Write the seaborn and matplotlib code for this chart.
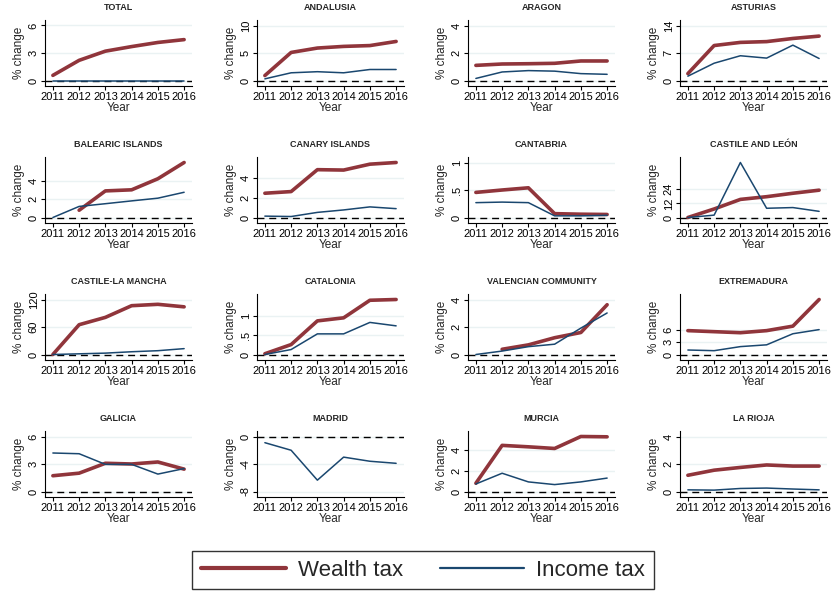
import numpy as np
import pandas as pd
import seaborn as sns
import matplotlib.pyplot as plt
from matplotlib.lines import Line2D

# === colours (Stata s2color-ish) === #
WEALTH_COLOR = "#90353B"
INCOME_COLOR = "#1A476F"
GRID_COLOR = "#EAF2F3"

NA = np.nan
YEARS = [2011, 2012, 2013, 2014, 2015, 2016]

# % change
total_wealth = [0.56, 2.2, 3.2, 3.7, 4.15, 4.46]
total_income = [0.0, 0.0, 0.0, 0.0, 0.0, 0.0]
andalusia_wealth = [0.9, 5.1, 5.9, 6.2, 6.35, 7.1]
andalusia_income = [0.3, 1.4, 1.6, 1.4, 2.0, 2.0]
aragon_wealth = [1.1, 1.2, 1.22, 1.25, 1.42, 1.42]
aragon_income = [0.15, 0.62, 0.72, 0.68, 0.5, 0.45]
asturias_wealth = [1.75, 8.9, 9.7, 9.9, 10.7, 11.3]
asturias_income = [1.1, 4.4, 6.3, 5.7, 9.0, 5.6]
balearic_wealth = [NA, 0.8, 2.93, 3.05, 4.27, 6.06]
balearic_income = [0.0, 1.22, 1.52, 1.83, 2.13, 2.78]
canary_wealth = [2.47, 2.64, 4.87, 4.83, 5.43, 5.6]
canary_income = [0.14, 0.1, 0.52, 0.77, 1.08, 0.9]
cantabria_wealth = [0.456, 0.5, 0.54, 0.07, 0.06, 0.055]
cantabria_income = [0.27, 0.28, 0.27, 0.03, 0.03, 0.04]
castile_leon_wealth = [0.0, 7.2, 15.3, 17.6, 20.5, 23.1]
castile_leon_income = [0.0, 2.0, 46.5, 7.8, 8.4, 5.2]
castile_mancha_wealth = [0.0, 65.0, 81.0, 106.5, 109.5, 104.0]
castile_mancha_income = [0.0, 1.5, 3.0, 6.0, 8.3, 12.8]
catalonia_wealth = [0.02, 0.26, 0.88, 0.96, 1.42, 1.44]
catalonia_income = [0.0, 0.13, 0.54, 0.54, 0.84, 0.75]
valencia_wealth = [NA, 0.38, 0.7, 1.22, 1.6, 3.62]
valencia_income = [0.0, 0.25, 0.57, 0.75, 1.92, 3.02]
extremadura_wealth = [5.75, 5.5, 5.25, 5.75, 6.83, 13.25]
extremadura_income = [1.08, 0.92, 1.9, 2.33, 5.0, 6.0]
galicia_wealth = [1.72, 2.0, 3.08, 3.0, 3.22, 2.44]
galicia_income = [4.2, 4.12, 2.96, 2.96, 1.9, 2.5]
madrid_wealth = [NA, NA, NA, NA, NA, NA]
madrid_income = [-0.9, -2.0, -6.35, -3.0, -3.6, -3.9]
murcia_wealth = [0.8, 4.47, 4.33, 4.17, 5.33, 5.3]
murcia_income = [0.73, 1.77, 0.93, 0.67, 0.93, 1.3]
rioja_wealth = [1.18, 1.55, 1.75, 1.93, 1.85, 1.85]
rioja_income = [0.12, 0.1, 0.22, 0.25, 0.18, 0.12]

PANELS = [
    ("TOTAL", total_wealth, total_income, [0, 3, 6], ["0", "3", "6"]),
    ("ANDALUSIA", andalusia_wealth, andalusia_income, [0, 5, 10], ["0", "5", "10"]),
    ("ARAGON", aragon_wealth, aragon_income, [0, 2, 4], ["0", "2", "4"]),
    ("ASTURIAS", asturias_wealth, asturias_income, [0, 7, 14], ["0", "7", "14"]),
    ("BALEARIC ISLANDS", balearic_wealth, balearic_income, [0, 2, 4], ["0", "2", "4"]),
    ("CANARY ISLANDS", canary_wealth, canary_income, [0, 2, 4], ["0", "2", "4"]),
    ("CANTABRIA", cantabria_wealth, cantabria_income, [0, 0.5, 1], ["0", ".5", "1"]),
    ("CASTILE AND LEÓN", castile_leon_wealth, castile_leon_income, [0, 12, 24], ["0", "12", "24"]),
    ("CASTILE-LA MANCHA", castile_mancha_wealth, castile_mancha_income, [0, 60, 120], ["0", "60", "120"]),
    ("CATALONIA", catalonia_wealth, catalonia_income, [0, 0.5, 1], ["0", ".5", "1"]),
    ("VALENCIAN COMMUNITY", valencia_wealth, valencia_income, [0, 2, 4], ["0", "2", "4"]),
    ("EXTREMADURA", extremadura_wealth, extremadura_income, [0, 3, 6], ["0", "3", "6"]),
    ("GALICIA", galicia_wealth, galicia_income, [0, 3, 6], ["0", "3", "6"]),
    ("MADRID", madrid_wealth, madrid_income, [-8, -4, 0], ["-8", "-4", "0"]),
    ("MURCIA", murcia_wealth, murcia_income, [0, 2, 4], ["0", "2", "4"]),
    ("LA RIOJA", rioja_wealth, rioja_income, [0, 2, 4], ["0", "2", "4"]),
]

# layout in pixels
W, H = 833, 594
COL_LEFT = [45, 257, 468, 680]
ROW_TOP = [20, 157, 294, 431]
AX_W, AX_H = 147, 66

sns.set_style("ticks")
plt.rcParams["font.family"] = ["Liberation Sans", "DejaVu Sans"]

fig = plt.figure(figsize=(W / 100, H / 100), dpi=100)
fig.patch.set_facecolor("white")

for i, (title, wealth, income, ticks, labels) in enumerate(PANELS):
    r, c = divmod(i, 4)
    ax = fig.add_axes([COL_LEFT[c] / W, 1 - (ROW_TOP[r] + AX_H) / H, AX_W / W, AX_H / H])

    df = pd.DataFrame({
        "Year": YEARS * 2,
        "value": wealth + income,
        "tax": ["Wealth tax"] * 6 + ["Income tax"] * 6,
    })

    for t in ticks:
        ax.axhline(t, color=GRID_COLOR, lw=1.0, zorder=0)
    ax.axhline(0, color="black", lw=1.0, ls=(0, (5, 3.5)), zorder=1)

    sns.lineplot(
        data=df, x="Year", y="value", hue="tax", size="tax",
        hue_order=["Wealth tax", "Income tax"],
        palette={"Wealth tax": WEALTH_COLOR, "Income tax": INCOME_COLOR},
        sizes={"Wealth tax": 2.6, "Income tax": 1.1},
        estimator=None, legend=False, ax=ax, zorder=3,
    )

    vals = np.array(wealth + income, dtype=float)
    lo = min(np.nanmin(vals), min(ticks))
    hi = max(np.nanmax(vals), max(ticks))
    pad = (hi - lo) * 0.1
    ax.set_ylim(lo - pad, hi + pad)
    ax.set_xlim(2011 - 0.3, 2016 + 0.3)

    ax.set_xticks(YEARS)
    ax.set_xticklabels([str(y) for y in YEARS])
    ax.set_yticks(ticks)
    ax.set_yticklabels(labels, rotation=90, va="center")
    ax.tick_params(axis="both", labelsize=8, length=3, width=0.8, pad=1.5, colors="black")

    ax.set_title(title, fontsize=6.5, fontweight="bold", pad=7)
    ax.set_xlabel("Year", fontsize=8.5, labelpad=0)
    ax.set_ylabel("% change", fontsize=8.5, labelpad=3)

    sns.despine(ax=ax)
    for s in ["left", "bottom"]:
        ax.spines[s].set_color("black")
        ax.spines[s].set_linewidth(0.8)
    ax.set_facecolor("white")

handles = [
    Line2D([], [], color=WEALTH_COLOR, lw=3.0),
    Line2D([], [], color=INCOME_COLOR, lw=1.6),
]
leg = fig.legend(
    handles, ["Wealth tax", "Income tax"],
    loc="center", bbox_to_anchor=(0.508, 0.0404), ncol=2,
    fontsize=16, frameon=True, fancybox=False, edgecolor="black",
    handlelength=3.8, handletextpad=0.55, columnspacing=1.65, borderpad=0.4,
)
leg.get_frame().set_linewidth(1.0)

plt.savefig("out.png", dpi=100)
